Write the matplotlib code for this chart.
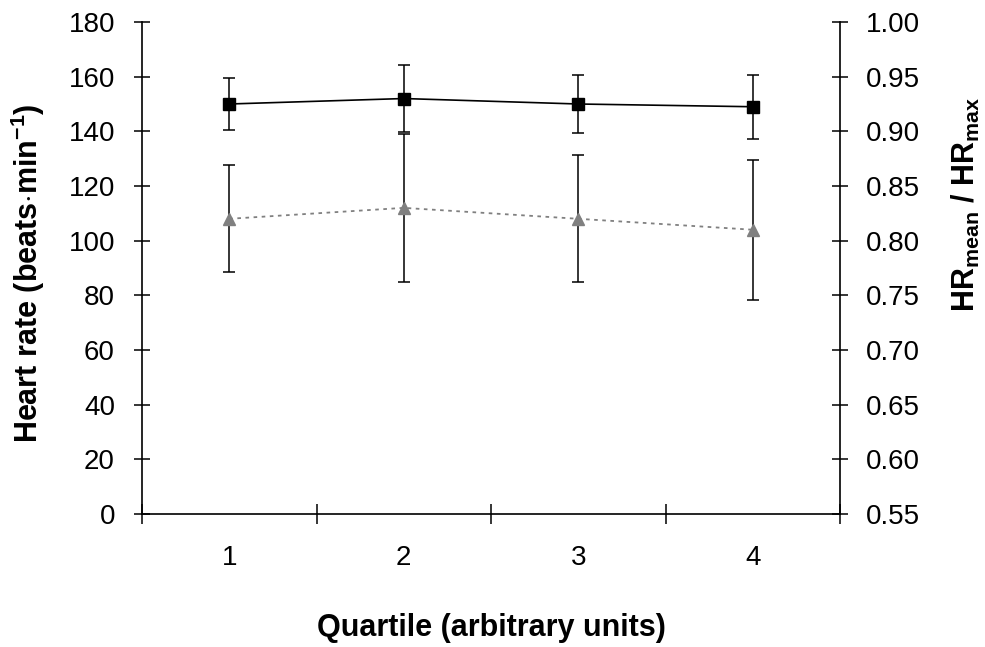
import matplotlib
matplotlib.use("Agg")
import matplotlib.pyplot as plt
import numpy as np

plt.rcParams['font.family'] = ['Liberation Sans', 'DejaVu Sans']
plt.rcParams['mathtext.fontset'] = 'custom'
plt.rcParams['mathtext.rm'] = 'Liberation Sans'
plt.rcParams['mathtext.bf'] = 'Liberation Sans:bold'
plt.rcParams['mathtext.it'] = 'Liberation Sans:italic'

quartiles = [1, 2, 3, 4]
quartile_labels = ['1', '2', '3', '4']

# Heart rate (beats/min), mean and SD
hr_mean = [150, 152, 150, 149]
hr_sd = [9.5, 12.2, 10.7, 11.7]

# Fraction of maximal heart rate, mean and SD
hr_frac = [0.82, 0.83, 0.82, 0.81]
hr_frac_sd = [0.049, 0.068, 0.058, 0.064]

TICK_FS = 20
LABEL_FS = 22

W, H = 985, 647
fig = plt.figure(figsize=(W / 100, H / 100), dpi=100)
ax = fig.add_axes([142 / W, (H - 514) / H, (840 - 142) / W, (514 - 22) / H])
ax2 = ax.twinx()

# Heart rate series (left axis)
ax.errorbar(quartiles, hr_mean, yerr=hr_sd, color='black', ecolor='black',
            elinewidth=1.1, capsize=4, capthick=1.1, lw=1.2,
            marker='s', markersize=8, zorder=3)

# HRmean / HRmax series (right axis)
ax2.errorbar(quartiles, hr_frac, yerr=hr_frac_sd, fmt='none', ecolor='black',
             elinewidth=1.1, capsize=4, capthick=1.1, zorder=2)
ax2.plot(quartiles, hr_frac, color='#808080', lw=1.3, linestyle=(0, (2, 2.5)),
         marker='^', markersize=8.5, markeredgecolor='#808080', zorder=3)

ax.set_xlim(0.5, 4.5)
ax.set_ylim(0, 180)
ax.set_yticks(np.arange(0, 181, 20))
ax2.set_ylim(0.55, 1.00)
ax2.set_yticks(np.arange(0.55, 1.001, 0.05))
ax2.set_yticklabels([f'{v:.2f}' for v in np.arange(0.55, 1.001, 0.05)])

# Category-style x axis: ticks between categories, labels at centres
ax.set_xticks([0.5, 1.5, 2.5, 3.5, 4.5])
ax.set_xticklabels([])
ax.set_xticks(quartiles, minor=True)
ax.set_xticklabels(quartile_labels, minor=True)
ax.tick_params(axis='x', which='minor', length=0, pad=22, labelsize=TICK_FS)
ax.tick_params(axis='x', which='major', direction='inout', length=14, width=1.1)

ax.tick_params(axis='y', direction='inout', length=11, width=1.1, pad=14,
               labelsize=TICK_FS)
ax2.tick_params(axis='y', direction='inout', length=11, width=1.1, pad=13,
                labelsize=TICK_FS)

for a in (ax, ax2):
    a.spines['top'].set_visible(False)
    for s in ('left', 'right', 'bottom'):
        a.spines[s].set_linewidth(1.2)
        a.spines[s].set_color('black')
ax.spines['right'].set_visible(False)
ax2.spines['left'].set_visible(False)
ax2.spines['bottom'].set_visible(False)

ax.set_ylabel(r'Heart rate (beats$\cdot$min$^{\mathbf{-1}}$)', fontsize=LABEL_FS,
              fontweight='bold')
ax.yaxis.set_label_coords(-0.163, 0.49)
ax.yaxis.label.set_va('center')
ax2.set_ylabel(r'HR$_{\mathbf{mean}}$ / HR$_{\mathbf{max}}$', fontsize=LABEL_FS,
               fontweight='bold')
ax2.yaxis.set_label_coords(1.18, 0.63)
ax2.yaxis.label.set_va('center')
ax.set_xlabel('Quartile (arbitrary units)', fontsize=LABEL_FS, fontweight='bold')
ax.xaxis.set_label_coords(0.5, -0.232)
ax.xaxis.label.set_va('center')

fig.savefig('out.png', dpi=100)
